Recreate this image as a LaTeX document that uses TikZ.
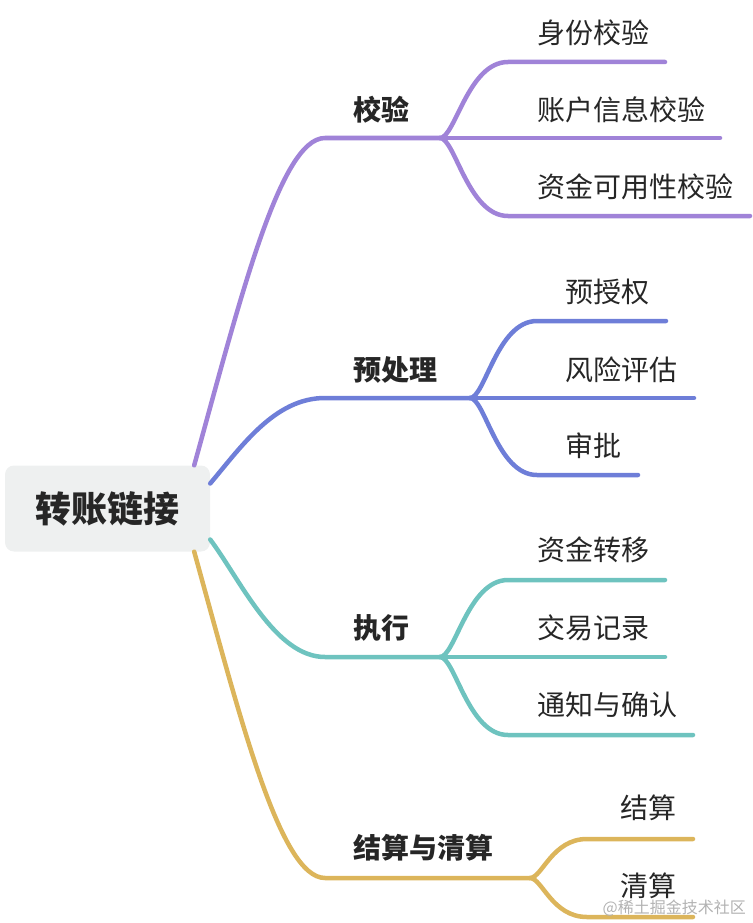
\documentclass[tikz,border=0pt]{standalone}
\usepackage{fontspec}
\setmainfont{Noto Sans CJK SC}
\usetikzlibrary{positioning}
\definecolor{checkcol}{HTML}{A083D8}
\definecolor{prepcol}{HTML}{6E7ED8}
\definecolor{execcol}{HTML}{6EC3BF}
\definecolor{settlecol}{HTML}{DCB55B}
\definecolor{rootgray}{HTML}{EEF0F0}
\definecolor{txt}{HTML}{262626}
\begin{document}
\begin{tikzpicture}[x=1pt,y=-1pt,
    branch/.style={line width=4.5pt,line cap=round},
    rootbox/.style={fill=rootgray,rounded corners=9pt,inner sep=0pt,
        minimum width=205pt,minimum height=86pt,text=txt,
        font=\fontsize{36}{36}\selectfont\bfseries},
    mainlabel/.style={anchor=west,inner sep=0pt,text=txt,
        font=\fontsize{28}{28}\selectfont\bfseries},
    leaflabel/.style={anchor=west,inner sep=0pt,text=txt,
        font=\fontsize{28}{28}\selectfont}]
    \useasboundingbox (0,0) rectangle (752,923);

    % Root
    \node[rootbox] (root) at (107.5,508.5) {转账链接};
    \coordinate (s1) at ([xshift=-16pt]root.north east);
    \coordinate (s2) at ([yshift=25pt]root.east);
    \coordinate (s3) at ([yshift=-31pt]root.east);
    \coordinate (s4) at ([xshift=-16pt]root.south east);

    % Branch: 校验
    \coordinate (check) at (325,138);
    \coordinate (checkf) at (440,138);
    \node[mainlabel] (checklabel) at (353,110) {校验};
    \draw[branch,checkcol] (s1) .. controls +(46,-166) and +(-45,0) .. (check) -- (checkf);
    \coordinate (id) at (508,62);   \coordinate (ide) at (665,62);
    \coordinate (acc) at (508,138); \coordinate (acce) at (720,138);
    \coordinate (fund) at (508,216); \coordinate (funde) at (750,216);
    \node[leaflabel] (idlabel) at (537,33) {身份校验};
    \node[leaflabel] (acclabel) at (537,110) {账户信息校验};
    \node[leaflabel] (fundlabel) at (537,187) {资金可用性校验};
    \draw[branch,checkcol] (checkf) .. controls +(15,0) and +(-40,0) .. (id) -- (ide);
    \draw[branch,checkcol] (checkf) -- (acce);
    \draw[branch,checkcol] (checkf) .. controls +(15,0) and +(-40,0) .. (fund) -- (funde);

    % Branch: 预处理
    \coordinate (prep) at (325,398);
    \coordinate (prepf) at (470,398);
    \node[mainlabel] (preplabel) at (353,370) {预处理};
    \draw[branch,prepcol] (s2) .. controls +(32,-38) and +(-50,0) .. (prep) -- (prepf);
    \coordinate (auth) at (537,321); \coordinate (authe) at (666,321);
    \coordinate (risk) at (537,398); \coordinate (riske) at (694,398);
    \coordinate (appr) at (537,475); \coordinate (appre) at (638,475);
    \node[leaflabel] (authlabel) at (565,292) {预授权};
    \node[leaflabel] (risklabel) at (565,370) {风险评估};
    \node[leaflabel] (apprlabel) at (565,446) {审批};
    \draw[branch,prepcol] (prepf) .. controls +(15,0) and +(-40,0) .. (auth) -- (authe);
    \draw[branch,prepcol] (prepf) -- (riske);
    \draw[branch,prepcol] (prepf) .. controls +(15,0) and +(-40,0) .. (appr) -- (appre);

    % Branch: 执行
    \coordinate (exec) at (325,657);
    \coordinate (execf) at (440,657);
    \node[mainlabel] (execlabel) at (353,628) {执行};
    \draw[branch,execcol] (s3) .. controls +(30,40) and +(-50,0) .. (exec) -- (execf);
    \coordinate (move) at (508,580); \coordinate (movee) at (665,580);
    \coordinate (rec) at (508,657);  \coordinate (rece) at (665,657);
    \coordinate (note) at (508,735); \coordinate (notee) at (693,735);
    \node[leaflabel] (movelabel) at (537,550) {资金转移};
    \node[leaflabel] (reclabel) at (537,628) {交易记录};
    \node[leaflabel] (notelabel) at (537,705) {通知与确认};
    \draw[branch,execcol] (execf) .. controls +(15,0) and +(-40,0) .. (move) -- (movee);
    \draw[branch,execcol] (execf) -- (rece);
    \draw[branch,execcol] (execf) .. controls +(15,0) and +(-40,0) .. (note) -- (notee);

    % Branch: 结算与清算
    \coordinate (settle) at (325,878);
    \coordinate (settlef) at (530,878);
    \node[mainlabel] (settlelabel) at (353,848) {结算与清算};
    \draw[branch,settlecol] (s4) .. controls +(46,166) and +(-45,0) .. (settle) -- (settlef);
    \coordinate (jiesuan) at (587,839); \coordinate (jiesuane) at (693,839);
    \coordinate (qingsuan) at (587,917); \coordinate (qingsuane) at (693,917);
    \node[leaflabel] (jiesuanlabel) at (620,808) {结算};
    \node[leaflabel] (qingsuanlabel) at (620,886) {清算};
    \draw[branch,settlecol] (settlef) .. controls +(12,0) and +(-35,0) .. (jiesuan) -- (jiesuane);
    \draw[branch,settlecol] (settlef) .. controls +(12,0) and +(-35,0) .. (qingsuan) -- (qingsuane);

    % Watermark
    \node[anchor=east,inner sep=0pt,text=black!30,font=\fontsize{16}{16}\selectfont] (mark) at (746,908) {@稀土掘金技术社区};
\end{tikzpicture}
\end{document}
